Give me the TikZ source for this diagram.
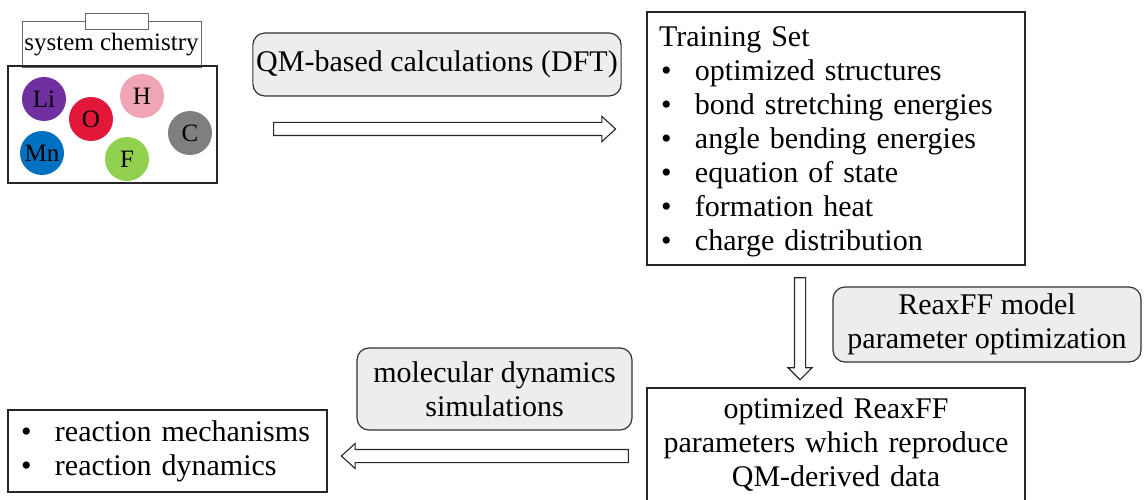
\documentclass[tikz,border=0pt]{standalone}
\usepackage{fontspec}
\setmainfont{Liberation Serif}
\usepackage{tikz}
\usetikzlibrary{arrows.meta, shapes, positioning}

\definecolor{liC}{HTML}{7030A0}
\definecolor{oC}{HTML}{E2173A}
\definecolor{hC}{HTML}{EFA5B5}
\definecolor{cC}{HTML}{7F7F7F}
\definecolor{mnC}{HTML}{0070C0}
\definecolor{fC}{HTML}{92D050}
\definecolor{noteC}{HTML}{EDEDED}

\newcommand{\bpt}{\makebox[36pt][l]{\hspace{2pt}\textbullet}}

\tikzset{
  every node/.style={font=\fontsize{30}{34}\selectfont, text=black},
  plainbox/.style={draw=black!85, line width=1.3pt, rectangle},
  thinbox/.style={draw=black!60, line width=0.8pt, rectangle, inner sep=0pt},
  stepnote/.style={draw=black!80, line width=1.2pt, rounded corners=12pt, fill=noteC, align=center},
  atom/.style={circle, minimum size=44pt, inner sep=0pt, font=\fontsize{25}{27}\selectfont},
  hollow/.style={single arrow, sloped, allow upside down, draw=black!85, line width=1.1pt, fill=white,
    inner xsep=0pt, inner ysep=6pt, single arrow head extend=6pt, single arrow head indent=0pt,
    single arrow tip angle=85},
}

\begin{document}
\begin{tikzpicture}[x=1pt,y=-1pt]
	\useasboundingbox (0,0) rectangle (1144,500);
	
	\node[thinbox, minimum width=179pt, minimum height=46pt, font=\fontsize{25}{27}\selectfont] (syslabel) at (111.5,44.5) {system chemistry};
	\node[thinbox, fill=white, minimum width=63pt, minimum height=16pt] (systab) at (116.5,21) {};
	\node[plainbox, minimum width=209pt, minimum height=117pt] (sysbox) at (112.5,124.5) {};
	
	\node[atom, fill=liC] (li) at (44,99) {Li};
	\node[atom, fill=oC] (o) at (91,119) {O};
	\node[atom, fill=hC] (h) at (142,96) {H};
	\node[atom, fill=cC] (c) at (190,133) {C};
	\node[atom, fill=mnC] (mn) at (42,153) {Mn};
	\node[atom, fill=fC] (f) at (127,159) {F};
	
	\node[stepnote, minimum width=368pt, minimum height=63pt] (qm) at (437,64.5) {QM-based calculations (DFT)};
	
	\node[plainbox, inner xsep=12pt, text width=354pt, minimum height=253pt, align=left] (trainset) at (836,138.5) {\rule{0pt}{30pt}Training Set\\
		\bpt optimized structures\\
		\bpt bond stretching energies\\
		\bpt angle bending energies\\
		\bpt equation of state\\
		\bpt formation heat\\
		\bpt charge distribution\strut};
	
	\node[stepnote, minimum width=308pt, minimum height=75pt] (reaxff) at (987,324.5) {ReaxFF model\\parameter optimization};
	
	\node[plainbox, inner xsep=12pt, text width=354pt, minimum height=114pt, align=center] (optpar) at (836,445) {optimized ReaxFF\\parameters which reproduce\\QM-derived data};
	
	\node[stepnote, minimum width=275pt, minimum height=82pt] (md) at (494.5,389) {molecular dynamics\\simulations};
	
	\node[plainbox, inner xsep=11pt, text width=297pt, minimum height=82pt, align=left] (outcome) at (167.5,451) {\bpt reaction mechanisms\\
		\bpt reaction dynamics};
	
	\coordinate (qmtail) at (270,129);
	\coordinate (qmtip) at (612,129);
	\coordinate (fittail) at (800,275);
	\coordinate (fittip) at (800,377);
	\coordinate (mdtail) at (632,456);
	\coordinate (mdtip) at (345,456);
	
	\path (qmtail) -- node[hollow, minimum height=342pt] (qmarrow) {} (qmtip);
	\path (fittail) -- node[hollow, inner ysep=5pt, single arrow head extend=6.5pt, single arrow tip angle=90, minimum height=102pt] (fitarrow) {} (fittip);
	\path (mdtail) -- node[hollow, minimum height=287pt] (mdarrow) {} (mdtip);
\end{tikzpicture}
\end{document}
